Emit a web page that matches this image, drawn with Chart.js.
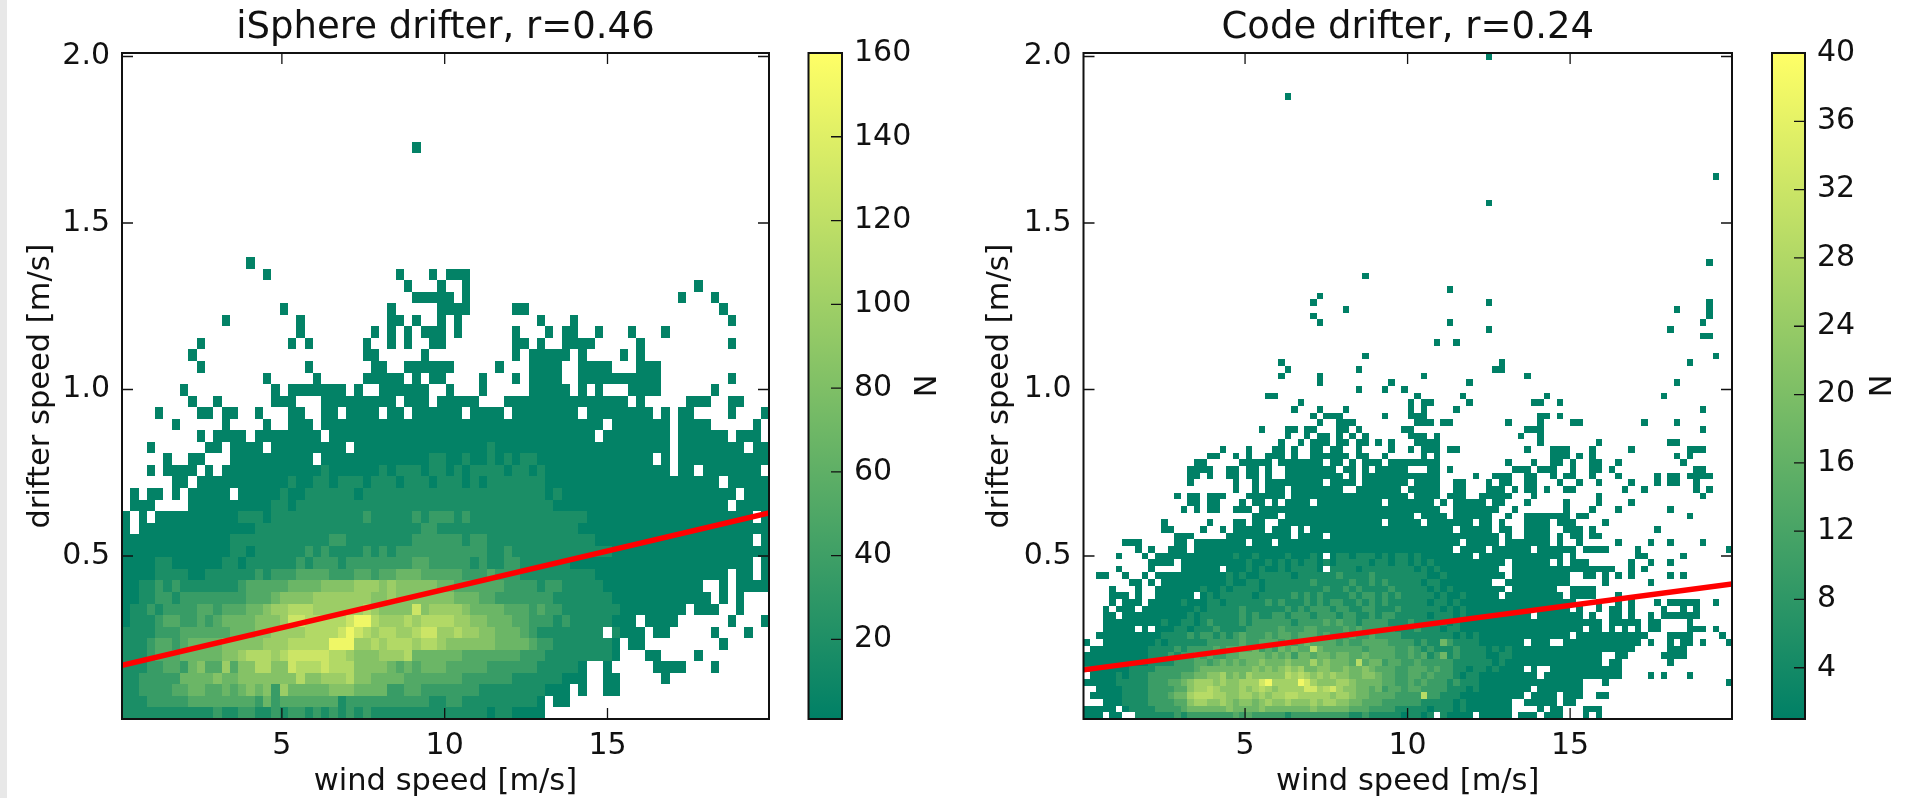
<!DOCTYPE html>
<html>
<head>
<meta charset="utf-8">
<title>Drifter speed vs wind speed</title>
<script src="https://cdn.jsdelivr.net/npm/chart.js@4"></script>
<style>
  html, body { margin: 0; padding: 0; background: #fff; overflow: hidden; width: 1915px; height: 798px; }
  canvas { position: absolute; top: 0; filter: blur(0.45px); }
  #strip { position: absolute; left: 0; top: 0; width: 7px; height: 798px; background: #e8e8e8; }
</style>
</head>
<body>
<div id="strip"></div>
<canvas id="isphere" width="800" height="798" style="left:0"></canvas>
<canvas id="isphereBar" width="160" height="798" style="left:800px"></canvas>
<canvas id="code" width="810" height="798" style="left:960px"></canvas>
<canvas id="codeBar" width="145" height="798" style="left:1770px"></canvas>
<script>
// ── Values ────────────────────────────────────────────
const xTicks      = [5, 10, 15];
const yTicks      = [0.5, 1.0, 1.5, 2.0];
const isphereBarTicks = [20, 40, 60, 80, 100, 120, 140, 160];
const codeBarTicks    = [4, 8, 12, 16, 20, 24, 28, 32, 36, 40];

// regression lines
const isphereFitX = [0.09, 19.96];
const isphereFitY = [0.172, 0.629];
const codeFitX    = [0.03, 19.98];
const codeFitY    = [0.158, 0.416];

// bin counts per level char ('.' = empty bin)
const isphereLevels = [3, 18, 36, 52, 68, 84, 98, 112, 128, 150];
const codeLevels    = [1, 5, 10, 14, 18, 22, 26, 29, 33, 38];

// single bins far above the cloud: [column, row from bottom]
const isphereStray = [[35, 49]];
const codeStray    = [[62, 99], [31, 93], [97, 81], [62, 77], [96, 68]];

// iSphere: first line is row 39 from the bottom, last line is row 0
const isphereRows = [
'.......... .....0....',
'.......... .......0.. .......... ...0...0.0 00',
'.......... .......... .......... ....0...0. .0........ .......... .........0',
'.......... .......... .......... .....00000 .0........ .......... .......0.. .0',
'.......... .........0 .......... ..0.....00 00.....00. .......... .......... ..0',
'.......... ..0....... .0........ ..00.0..0. 0......... 0...0..... .......... ...0',
'.......... .......... .0........ 0.0.0.000. 0......0.. .0.00..0.. .0...0',
'.........0 .......... 0.0......0 ..0.0..00. .......00. 0..0000... ..0....... ...0',
'........0. .......... .........0 0.....0... .......0.0 0000.0.... 0.0',
'.........0 .......... ..0....... 00..000000 .....0...0 000..0000. ..000',
'.......... .......0.. ...0.....0 0000.0.00. ...0...0.0 000..00000 00000..... ...0',
'.......0.. ........0. 0000000.0. .000000..0 ...0.....0 0000.0.0.. .0000..... .0',
'........0. .0......00 0...000000 000.000.00 000...0000 0000000000 0.0.....00 0..00',
'....0....0 0.00..0... 00..00.000 0.00.00000 0.0000.000 00000.0000 0000.0.00. ...0...0',
'......0... ..0....0.. 000.000000 0000000000 0000000000 00000000.0 000000.000 0.....0.',
'.........0 .0000.0000 0000.00000 0000000000 0000000000 0000000.00 000000.000 000.000.',
'...0...... 00.0000.00 0000000.00 0000000000 0000100000 0000000000 000000.000 00000.00',
'.....0..00 ...0000000 000.000000 0000000110 0100101011 0000000000 0000.0.000 00000000',
'...0.0000. 0.00000000 0000100000 0101110110 1011110110 1000000000 000000.00. 0000000.',
'......00.0 0000000000 1001101110 1110111011 1010111111 1000000000 0000000000 00.00000',
'.0.00.0.00 000.000001 0011111101 1111111111 1111111111 1010000000 0000000000 0000.000',
'.000....00 0000000011 0111111111 1111111111 1111111111 1100000000 0000000000 000.0000',
'0.0.000000 0000111011 1111111112 1111121222 1211111111 1111110000 0000000000 000000.0',
'0.00000000 0000001111 1111111111 1111112211 1111111111 1111100000 0000000000 00000000',
'0000000000 0001111111 1111122111 1111122222 2122111111 1111111000 0000000000 000000.0',
'0000000000 0001101111 1121211112 1212222222 2222112111 1111111110 0000000000 00000000',
'0000110000 0011011111 1212221222 2222233222 2212112211 1111000000 0000000000 000000.0',
'0000111100 1111112122 2333322233 2334443333 3222322211 1111111000 0000000000 000.00.0',
'0011212111 1111233333 4444555566 6565555544 3333332222 1221111100 0000000000 ..0.0000',
'0011221222 2222233345 5556666666 5565555555 4443322222 2211111110 0000000000 0.0.0...',
'0112122223 3233344566 7776666667 6555585666 6544443332 3221111111 00000000.0 00..0...',
'0111233223 2344445556 8877777899 7666767777 6655444332 2212111110 00.0000... ...0...0',
'1111222333 3334445566 6677778987 6776678866 7665544432 11111111.1 000.00.... .0...0..',
'1112332344 4455555666 7777799966 7677767765 5555544443 2211111110 .00....... ..0',
'1112333444 4455677767 8888877655 5666744444 4333333322 2111111110 ...00....0',
'1112233245 3363557755 8777877755 5543434443 3333222222 111110..0. ....0000.. .0',
'1122222444 4544555555 5755666755 4444333333 3222222111 111000..00 .....0',
'1122223344 3343454526 4444455544 4422332222 2221111111 1000.0..00',
'1112222233 3333332423 3333331222 2222222112 2111111111 0.00',
'1111111111 1211221121 2212121212 1111111111 1111011000 0',
];

// Code: first line is row 66 from the bottom, last line is row 0
const codeRows = [
'.......... .......... .......... .......... ...0',
'',
'.......... .......... .......... .......... .......... ......0',
'.......... .......... .......... ......0',
'.......... .......... .......... .....0.... .......... .......... ..0....... .......... .......... ......0',
'.......... .......... .......... .......... 0......... .......... .......... .......... .......... .0....0',
'.......... .......... .......... .....0.... .......... .......... .......... .......... .......... ......0',
'.......... .......... .......... ......0... .......... ......0... .......... .......... .......... .....0',
'.......... .......... .......... .......... .......... .......... ..0....... .......... .......... 0',
'.......... .......... .......... .......... .......... .......... .......... .......... .......... .....00',
'.......... .......... .......... .......... .......... ....0..0',
'',
'.......... .......... .......... .......... ...0...... .......... .......... .......... .......... .......0',
'.......... .......... .......... 0......... .......... .......... ....0..... .......... .......... ...0',
'.......... .......... .......... .0........ ..0....... .......... ...00',
'.......... .......... .......... 0.....0... .......... ..0....... ........0',
'.......... .......... .......... ......0... .......0.. .........0 .......... .......... .......... .0',
'.......... .......... .......... .......... ..0...0..0',
'.......... .......... ........00 .......... .......... .0......0. .......... .0........ .........0',
'.......... .......... .......... ...0...... .......... 0.00.....0 .........0 0..0',
'.......... .......... .......... ..0...0... 0......... 0.0....0.. .......... .......... .......... .....0',
'.......... .......... .......... .....0.000 ......0... 000....... .......... 00.0',
'.......... .......... .......... ......0..0 00........ .000.00... .....0.... 0....00... ......0... .0',
'.......... .......... .......0.. .00.00...0 0.0......0 0......... ........00 0......... .......... .....0',
'.......... .......... .......... .0..0.00.0 .0.0...... 000.0..... .......0.. 0',
'.......... .......... .......... 0..0.000.0 0.00.0.0.. .0000..... .......... 0........0 .......... 00',
'.......... .......... .0...0...0 0.0..00.00 ..0....0.. 0.000.00.. ........0. ..000...0. ....0..... ...000',
'.......... .........0 0..0.0..00 0.0..00000 0.00..0... ..0.0..... .......... ..000.0.0. .......... .0.0',
'.......... .......00. ....00000. 0000000.00 .0.000.000 00000..... .....0...0 ..00.0..00 ..0....... ..0',
'.......... ......0000 ..00.00.0. .00000000. 00.0.00000 ...00.0... ......000. 000..0..00 .0........ ....00',
'.......... ......00.0 ..00.00.0. .000000000 .0.0000000 00000..... 0..000..00 ..0.00..0. ..0.....0. 00.0000',
'.......... ......0... ...0..0.00 0000000.00 00.0000000 .0000..00. ..0.00..00 ...0..0..0 ....0...0. 00..0',
'.......... .......... ...0..0.00 0.00000000 ..0000000. 00000..00. ..000.0.00 .0..00.... ...0..0... ....0.0',
'.......... ....0.00.0 00...00000 0.00000000 0000000000 .0000.000. .00000...0 .........0 .......... .....0',
'.......... ......00.0 0...0.00.0 .0000.0000 000000.000 0000.0.000 00.00...0. ....0....0 ....0',
'.......... .....0.0.0 0..000.000 0000000000 0000000000 00000..000 0000..0... ....0...0. ..0....... 0',
'.......... .......... ......0000 .000000000 0000000000 0.0000.000 000..0..00 00000.00.. .......... ...0',
'.......... ..0......0 ...00.00.. 0000000000 000000.000 00.0000000 .00.0...00 00.000.... 0',
'.......... ..00....0. .0.00000.0 00.0.00000 0000000000 0000000.00 000.00..00 00..000.0. ........0',
'.......... ....000... ..00000000 00.0000.00 0000000000 0000000000 0000.0..00 00.0.00.00',
'......000. ....00.000 00000.000. 0000000000 0000000000 00000000.0 0000.00000 00.0..0... ..0....0.. 0....0',
'........0. 0..000.000 0000000000 0000000000 0000000000 0000000.00 00.000000. 000000.000 0....0.... .........0',
'.....0...0 .000000000 0001001000 0100010.01 1011101011 0100000000 .000000000 0000.0.... .....00... ..0',
'.......... 0000.00000 0000010010 1010110101 1111011011 0101000000 00000.0000 00.0.000.. ....0..0.. 0',
'.....0.... 0....00000 0.00010100 1011110.11 1101111111 1010100000 0000..0000 0000000000 00..0.0',
'..00..0..0 .000000000 0010100111 1101111112 1111211111 1110010000 00000.0000 00000..00. 0.0.0..... 0.0',
'.......00. 0.00000000 0010011011 1111121111 1211212111 1101100000 000..00000 00000..... 0......0',
'....0...0. .000000010 0101111011 1111111211 2121111211 1110101000 00000.0000 000..0000.',
'....000.0. .000000.01 0111110111 1121212111 1212212121 1111010010 0000.00000 0000.0000. ..0',
'....0.000. 0000010001 1011111121 2111212122 1121212111 1110110100 0000000000 000000...0 ..0.0...0. 00000..0',
'...0.000.0 0000000101 1111211111 1212122212 2112211121 1111101010 0000000000 00000.0..0 .00.0....0 ..0.0',
'...00.0000 0000001011 1111212112 2122212221 2211212211 1110111010 000000000. 0000000.0. .00.0..0.0 00000',
'...0000000 0010011012 1111212222 2212222323 2212222111 2111110100 0000000000 0000000000 .00000.00. ...0',
'...00000.0 .000110111 2111122222 3222332222 3232222211 1211101100 0000000000 0000000.00 .0.0.0.00. ...000.0',
'..00000000 0011112122 1212322232 3323332322 2322322221 1111111010 1000000000 00000.0000 0000000... 0000....0',
'0..0000000 0101111112 2222322333 2323433332 3223333222 2121142111 10000000.0 00..000000 000000.0.. 0.00.0...0',
'.000000000 1111212222 3233334232 4343374333 3332333322 3212111211 1101010000 0000000000 00000..... 000',
'0000000000 1112122323 2233444434 3424434434 4334333322 3231241211 1100110000 0000000000 ..00.....0 000',
'0000000000 1111222332 3434344544 4544464544 4373442332 2322222111 1110100000 0000000000 .00....... 0',
'1000000111 1222222344 4444445454 5656445544 5445433322 3332322110 11010000.0 ..00000000 000',
'.000010111 2222233445 5645465555 5767656565 5445543322 3323222101 1000000000 .000000000 000....0.0 ...0',
'0000011111 2223345666 5655666896 6669865556 6544443322 3232221211 1000000000 0000000... 0......... .........0',
'..00001111 2222335667 6555656765 6666886786 5544342332 3322221110 100000000. 0000000',
'.000001111 2223446777 6655665656 6776666656 6544333322 2272211100 00000000.0 000.000..0 0',
'...0001111 2222335665 5654554565 5655565665 5443332222 2211111010 000000..00 000.00',
'00000.0111 1222234444 4454444544 4444454444 4333222211 1110111010 000000.... 0.00...000',
'000.00..11 1111212222 2223232222 2122222222 2112111110 1101.10000 .00000.000 .000...0.0',
];

// ── Colours and fonts ─────────────────────────────────
const COLORS = {
  ink:  '#111111',
  line: '#ff0000',
};

Chart.defaults.font.family = '"DejaVu Sans"';
Chart.defaults.color = COLORS.ink;

// matplotlib "summer"
function summer(t) {
  const c = Math.max(0, Math.min(1, t));
  return `rgb(${Math.round(255 * c)},${Math.round(128 + 127 * c)},102)`;
}

// Turn the level rows into {x, y, v} bins
function buildBins(rows, topRow, stray, levels, xMin, yMin, dx, dy) {
  const bins = [];
  rows.forEach((text, i) => {
    const row = topRow - i;
    text.replace(/ /g, '').split('').forEach((ch, col) => {
      if (ch === '.') return;
      bins.push({ x: xMin + col * dx, y: yMin + row * dy, v: levels[+ch] });
    });
  });
  stray.forEach(([col, row]) => {
    bins.push({ x: xMin + col * dx, y: yMin + row * dy, v: levels[0] });
  });
  return bins;
}

// Bins are filled rectangles placed through the chart's scales
const binPlugin = {
  id: 'bins',
  beforeDatasetsDraw(chart, args, opts) {
    const { ctx, chartArea: a, scales: { x, y } } = chart;
    ctx.save();
    ctx.beginPath();
    ctx.rect(a.left, a.top, a.width, a.height);
    ctx.clip();
    chart.data.datasets[0].data.forEach(b => {
      const x0 = Math.round(x.getPixelForValue(b.x));
      const x1 = Math.round(x.getPixelForValue(b.x + opts.dx));
      const y0 = Math.round(y.getPixelForValue(b.y));
      const y1 = Math.round(y.getPixelForValue(b.y + opts.dy));
      ctx.fillStyle = summer((b.v - 1) / (opts.vMax - 1));
      ctx.fillRect(x0, y1, x1 - x0, y0 - y1);
    });
    ctx.restore();
  },
};

// Old matplotlib frame: ticks pointing inward on all four sides
const framePlugin = {
  id: 'frame',
  afterDatasetsDraw(chart) {
    const { ctx, chartArea: a, scales: { x, y } } = chart;
    ctx.save();
    ctx.strokeStyle = COLORS.ink;
    ctx.lineWidth = 1.3;
    ctx.beginPath();
    xTicks.forEach(v => {
      const px = x.getPixelForValue(v);
      ctx.moveTo(px, a.bottom); ctx.lineTo(px, a.bottom - 11);
      ctx.moveTo(px, a.top);    ctx.lineTo(px, a.top + 11);
    });
    yTicks.forEach(v => {
      const py = y.getPixelForValue(v);
      ctx.moveTo(a.left, py);  ctx.lineTo(a.left + 11, py);
      ctx.moveTo(a.right, py); ctx.lineTo(a.right - 11, py);
    });
    ctx.stroke();
    ctx.lineWidth = 2;
    ctx.strokeRect(a.left, a.top, a.width, a.height);
    ctx.restore();
  },
};

const barFramePlugin = {
  id: 'barFrame',
  afterDatasetsDraw(chart) {
    const { ctx, chartArea: a, scales: { y } } = chart;
    ctx.save();
    ctx.strokeStyle = COLORS.ink;
    ctx.lineWidth = 1.3;
    ctx.beginPath();
    y.ticks.forEach(t => {
      const py = y.getPixelForValue(t.value);
      ctx.moveTo(a.right, py); ctx.lineTo(a.right - 11, py);
    });
    ctx.stroke();
    ctx.lineWidth = 2;
    ctx.strokeRect(a.left, a.top, a.width, a.height);
    ctx.restore();
  },
};

// ── Heat map panel ────────────────────────────────────
function drawPanel(canvasId, cfg) {
  const ctx = document.getElementById(canvasId).getContext('2d');
  new Chart(ctx, {
    type: 'scatter',
    data: {
      datasets: [
        { label: 'N', data: cfg.bins, pointRadius: 0, showLine: false },
        {
          label: 'fit',
          data: cfg.fitX.map((v, i) => ({ x: v, y: cfg.fitY[i] })),
          showLine: true,
          borderColor: COLORS.line,
          borderWidth: 5.5,
          pointRadius: 0,
        },
      ],
    },
    plugins: [binPlugin, framePlugin],
    options: {
      responsive: false,
      animation: false,
      layout: { padding: { right: cfg.padRight } },
      plugins: {
        legend: { display: false },
        tooltip: { enabled: false },
        title: {
          display: true,
          text: cfg.title,
          fullSize: false,
          color: COLORS.ink,
          font: { size: 37, weight: 'normal', lineHeight: 1.2 },
          padding: { top: 6, bottom: 2.6 },
        },
        bins: { dx: cfg.dx, dy: cfg.dy, vMax: cfg.vMax },
      },
      scales: {
        x: {
          type: 'linear',
          min: cfg.xMin,
          max: cfg.xMax,
          grid: { display: false },
          border: { display: false },
          afterBuildTicks: s => { s.ticks = xTicks.map(v => ({ value: v })); },
          afterFit: s => { s.height = 79; },
          ticks: { font: { size: 30 }, padding: 1, maxRotation: 0, color: COLORS.ink },
          title: {
            display: true,
            text: 'wind speed [m/s]',
            color: COLORS.ink,
            font: { size: 30.5, lineHeight: 1.05 },
            padding: { top: 0, bottom: 0 },
          },
        },
        y: {
          type: 'linear',
          min: cfg.yMin,
          max: cfg.yMax,
          grid: { display: false },
          border: { display: false },
          afterBuildTicks: s => { s.ticks = yTicks.map(v => ({ value: v })); },
          afterFit: s => { s.width = cfg.axisWidth; },
          ticks: { font: { size: 30 }, padding: 4, color: COLORS.ink, callback: v => v.toFixed(1) },
          title: {
            display: true,
            text: 'drifter speed [m/s]',
            color: COLORS.ink,
            font: { size: 30.5 },
            padding: { top: cfg.yTitleTop, bottom: 0 },
          },
        },
      },
    },
  });
}

// ── Colorbar ──────────────────────────────────────────
function drawColorbar(canvasId, cfg) {
  const ctx = document.getElementById(canvasId).getContext('2d');
  new Chart(ctx, {
    type: 'bar',
    data: {
      labels: ['N'],
      datasets: [{
        data: [[1, cfg.vMax]],
        categoryPercentage: 1,
        barPercentage: 1,
        backgroundColor: c => {
          const a = c.chart.chartArea;
          if (!a) return summer(0);
          const g = c.chart.ctx.createLinearGradient(0, a.bottom, 0, a.top);
          g.addColorStop(0, summer(0));
          g.addColorStop(1, summer(1));
          return g;
        },
      }],
    },
    plugins: [barFramePlugin],
    options: {
      responsive: false,
      animation: false,
      layout: { padding: { top: 53, bottom: 79, left: cfg.padLeft } },
      plugins: { legend: { display: false }, tooltip: { enabled: false } },
      scales: {
        x: { display: false },
        y: {
          position: 'right',
          min: 1,
          max: cfg.vMax,
          grid: { display: false },
          border: { display: false },
          afterBuildTicks: s => { s.ticks = cfg.ticks.map(v => ({ value: v })); },
          afterFit: s => { s.width = cfg.axisWidth; },
          ticks: { font: { size: 30 }, padding: 4, color: COLORS.ink },
          title: {
            display: true,
            text: 'N',
            color: COLORS.ink,
            font: { size: 30.5 },
            padding: { top: cfg.nPad, bottom: 0 },
          },
        },
      },
    },
  });
}

const isphereDx = 0.2548, isphereDy = 0.03468;
const codeDx = 0.1995, codeDy = 0.02;

drawPanel('isphere', {
  title: 'iSphere drifter, r=0.46',
  bins: buildBins(isphereRows, 39, isphereStray, isphereLevels, 0.09, 0.0105, isphereDx, isphereDy),
  fitX: isphereFitX, fitY: isphereFitY,
  xMin: 0.09, xMax: 19.96, yMin: 0.0105, yMax: 2.0105,
  dx: isphereDx, dy: isphereDy, vMax: 160,
  padRight: 31, axisWidth: 122, yTitleTop: 23,
});
drawColorbar('isphereBar', { vMax: 160, ticks: isphereBarTicks, padLeft: 8.5, axisWidth: 118, nPad: 20 });

drawPanel('code', {
  title: 'Code drifter, r=0.24',
  bins: buildBins(codeRows, 66, codeStray, codeLevels, 0.03, 0.0105, codeDx, codeDy),
  fitX: codeFitX, fitY: codeFitY,
  xMin: 0.03, xMax: 19.98, yMin: 0.0105, yMax: 2.0105,
  dx: codeDx, dy: codeDy, vMax: 40,
  padRight: 38, axisWidth: 123.5, yTitleTop: 22,
});
drawColorbar('codeBar', { vMax: 40, ticks: codeBarTicks, padLeft: 2, axisWidth: 110, nPad: 20 });
</script>
</body>
</html>
